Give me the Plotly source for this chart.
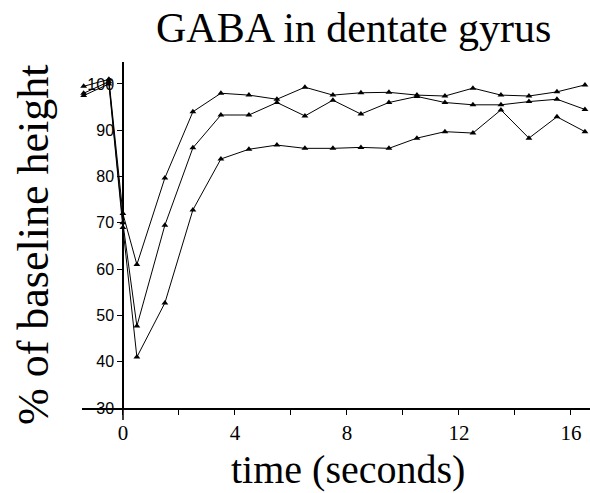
import plotly.graph_objects as go

times = [-1.4, -0.5, 0, 0.5, 1.5, 2.5, 3.5, 4.5, 5.5, 6.5, 7.5, 8.5, 9.5, 10.5, 11.5, 12.5, 13.5, 14.5, 15.5, 16.5]
series_a = [99.5, 101, 72, 61, 79.7, 94, 98, 97.6, 96.7, 99.3, 97.6, 98.1, 98.2, 97.6, 97.4, 99.1, 97.6, 97.4, 98.3, 99.8]
series_b = [98, 100.5, 70, 47.7, 69.5, 86.2, 93.3, 93.3, 96.0, 93.1, 96.5, 93.5, 96.0, 97.3, 96.0, 95.5, 95.5, 96.2, 96.7, 94.5]
series_c = [97.5, 100, 69, 41, 52.7, 72.8, 83.8, 85.9, 86.8, 86.1, 86.1, 86.3, 86.1, 88.3, 89.7, 89.4, 94.4, 88.3, 92.9, 89.7]

x_tickvals = [0, 2, 4, 6, 8, 10, 12, 14, 16]
x_ticktext = ["0", "", "4", "", "8", "", "12", "", "16"]
y_tickvals = [30, 40, 50, 60, 70, 80, 90, 100]

title_text = "GABA in dentate gyrus"
x_title = "time (seconds)"
y_title = "% of baseline height"

fig = go.Figure()
for ys in (series_a, series_b, series_c):
    fig.add_trace(go.Scatter(
        x=times, y=ys, mode="lines+markers",
        line=dict(color="black", width=1),
        marker=dict(symbol="triangle-up", size=6, color="black"),
        showlegend=False, cliponaxis=False,
    ))

serif = "Liberation Serif, DejaVu Serif, serif"
yaxis_pos = (123 - 82) / 508
fig.update_layout(
    width=590, height=493,
    margin=dict(l=82, r=0, t=62, b=85),
    paper_bgcolor="white", plot_bgcolor="white",
    xaxis=dict(
        range=[-1.46, 16.68], tickvals=x_tickvals, ticktext=x_ticktext,
        showgrid=False, zeroline=False, showline=True, linecolor="black", linewidth=1.5,
        ticks="outside", ticklen=5, tickcolor="black",
        tickfont=dict(family=serif, size=21, color="black"),
    ),
    yaxis=dict(
        range=[30, 104.75], tickvals=y_tickvals,
        showgrid=False, zeroline=False, showline=True, linecolor="black", linewidth=1.5,
        ticks="outside", ticklen=5, tickcolor="black",
        tickfont=dict(family="Liberation Sans, Arial, sans-serif", size=16, color="black"),
        anchor="free", position=yaxis_pos,
    ),
    shapes=[
        dict(type="line", xref="paper", yref="paper", x0=yaxis_pos, x1=yaxis_pos,
             y0=0, y1=-12 / 346, line=dict(color="black", width=1.5)),
    ],
    annotations=[
        dict(text=title_text, xref="paper", yref="paper", x=0.535, y=1.099,
             xanchor="center", yanchor="middle", showarrow=False,
             font=dict(family=serif, size=42, color="black")),
        dict(text=x_title, xref="paper", yref="paper", x=0.524, y=-0.178,
             xanchor="center", yanchor="middle", showarrow=False,
             font=dict(family=serif, size=40, color="black")),
        dict(text=y_title, xref="paper", yref="paper", x=-0.0965, y=0.471,
             xanchor="center", yanchor="middle", showarrow=False, textangle=-90,
             font=dict(family=serif, size=44, color="black")),
    ],
)

fig.write_html("out.html")
